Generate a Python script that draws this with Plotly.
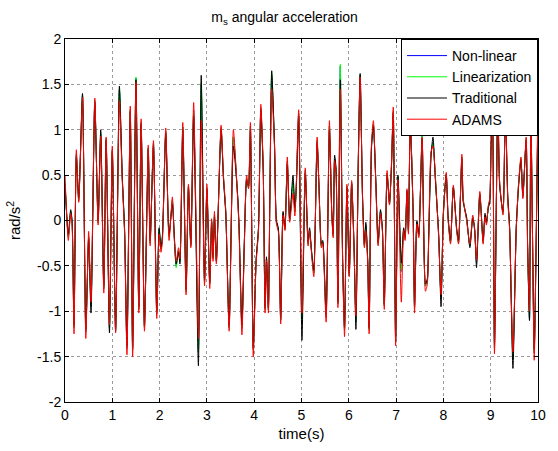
import plotly.graph_objects as go

# time (s)
t = [0.00, 0.07, 0.12, 0.15, 0.19, 0.24, 0.29, 0.37, 0.44, 0.50,
     0.55, 0.63, 0.70, 0.755, 0.82, 0.87, 0.94, 1.00, 1.07, 1.15,
     1.21, 1.26, 1.31, 1.38, 1.43, 1.50, 1.56, 1.61, 1.68, 1.76,
     1.80, 1.87, 1.94, 1.99, 2.03, 2.06, 2.13, 2.20, 2.27, 2.31,
     2.35, 2.40, 2.43, 2.49, 2.56, 2.61, 2.66, 2.72, 2.82, 2.88,
     2.95, 3.00, 3.06, 3.10, 3.13, 3.16, 3.20, 3.30, 3.35, 3.40,
     3.47, 3.56, 3.65, 3.68, 3.74, 3.79, 3.84, 3.88, 3.92, 3.98,
     4.04, 4.09, 4.14, 4.19, 4.23, 4.26, 4.30, 4.33, 4.37, 4.43,
     4.47, 4.51, 4.56, 4.61, 4.65, 4.70, 4.75, 4.82, 4.86, 4.89,
     4.94, 5.01, 5.08, 5.14, 5.17, 5.21, 5.26, 5.33, 5.37, 5.42,
     5.45, 5.52, 5.59, 5.64, 5.67, 5.70, 5.73, 5.77, 5.82, 5.87,
     5.91, 5.96, 6.01, 6.06, 6.11, 6.15, 6.20, 6.24, 6.29, 6.33,
     6.36, 6.40, 6.43, 6.48, 6.52, 6.57, 6.62, 6.67, 6.71, 6.75,
     6.81, 6.86, 6.90, 6.94, 6.99, 7.04, 7.11, 7.16, 7.19, 7.23,
     7.26, 7.30, 7.36, 7.39, 7.44, 7.48, 7.55, 7.62, 7.66, 7.69,
     7.74, 7.78, 7.83, 7.90, 7.95, 8.00, 8.06, 8.10, 8.15, 8.21,
     8.28, 8.32, 8.39, 8.42, 8.49, 8.56, 8.62, 8.66, 8.70, 8.77,
     8.84, 8.88, 8.91, 8.95, 8.98, 9.01, 9.04, 9.08, 9.15, 9.19,
     9.26, 9.31, 9.36, 9.40, 9.47, 9.54, 9.59, 9.64, 9.68, 9.75,
     9.78, 9.82, 9.85, 9.92, 9.96, 10.00]

adams = [0.50, -0.22, 0.08, -0.05, -1.25, 0.78, 0.20, 1.36, -1.30, -0.12,
         -0.90, 1.35, -0.05, 0.93, -0.80, 0.92, -1.15, 0.82, -1.24, 1.32,
         0.45, -0.15, -1.48, 1.26, -1.50, 1.52, -1.02, 1.12, -1.22, 0.83,
         -0.28, 0.88, -1.08, -0.15, -0.35, -0.22, 1.02, -0.22, 0.26, -0.20,
         -0.45, -0.30, -0.42, 1.08, -0.82, 0.40, -0.30, 1.30, -1.30, 1.10,
         -0.72, 0.40, -0.75, 0.02, -0.45, 0.10, -0.48, 1.05, 0.50, 0.10,
         -1.22, 1.00, 0.24, -0.11, -1.26, -0.30, 0.50, 0.35, 1.08, -1.50,
         -0.48, -0.12, 1.28, 0.60, -1.02, -0.44, -1.02, 0.17, 1.45, 0.80,
         -0.04, -0.12, -1.14, 0.06, -0.11, 0.70, -0.02, 0.30, 0.05, 0.40,
         1.22, -1.02, 0.58, -0.28, -0.11, -0.35, -0.62, 0.92, 0.35, -0.30,
         -0.25, -1.12, 1.10, 0.06, -0.19, 0.66, 0.53, -0.96, 1.45, -0.47,
         -1.28, 0.40, -0.62, 0.44, -0.30, -1.05, 0.60, 1.58, 0.24, -0.30,
         -0.11, -0.47, -1.25, 0.85, 1.10, 0.42, -0.28, 0.08, -0.11, -0.98,
         0.55, 0.17, 0.60, 1.25, -1.38, 0.45, -0.90, -0.11, -0.22, 0.35,
         -0.15, 1.15, 0.06, -1.02, -0.04, -0.19, 0.92, -0.78, -0.70, -0.19,
         0.76, 0.82, 0.49, -0.19, -0.82, 0.06, 0.53, 0.00, -0.26, 0.39,
         -0.11, -0.26, 0.73, 0.24, 0.00, -0.26, 0.06, -0.11, -0.44, 0.32,
         -0.26, 0.04, -0.05, 0.17, 0.24, 0.89, 1.20, -1.47, 1.30, 0.42,
         0.06, 1.25, 0.24, -0.11, -1.45, -0.11, 0.42, 0.70, 0.24, 0.92,
         -0.29, -1.00, 1.15, -1.54, -0.30, 1.39]

linearization = [0.42, -0.18, 0.10, -0.02, -1.18, 0.72, 0.22, 1.38, -1.22, -0.18,
                 -0.95, 1.32, -0.02, 0.97, -0.75, 0.90, -1.20, 0.78, -1.22, 1.45,
                 0.48, -0.12, -1.40, 1.22, -1.42, 1.58, -0.98, 1.08, -1.18, 0.80,
                 -0.25, 0.85, -1.02, -0.10, -0.32, -0.18, 0.98, -0.18, 0.22, -0.18,
                 -0.52, -0.33, -0.45, 1.03, -0.78, 0.38, -0.28, 1.20, -1.45, 1.52,
                 -0.68, 0.36, -0.70, 0.00, -0.42, 0.06, -0.45, 1.02, 0.48, 0.08,
                 -1.18, 0.92, 0.26, -0.08, -1.18, -0.28, 0.46, 0.36, 1.04, -1.42,
                 -0.45, -0.10, 1.24, 0.58, -0.98, -0.42, -0.98, 0.20, 1.62, 0.82,
                 -0.02, -0.10, -1.10, 0.08, -0.10, 0.65, 0.00, 0.42, 0.10, 0.38,
                 1.18, -1.15, 0.55, -0.26, -0.10, -0.33, -0.58, 0.88, 0.36, -0.28,
                 -0.24, -1.06, 1.04, 0.08, -0.17, 0.68, 0.55, -0.92, 1.72, -0.45,
                 -1.20, 0.38, -0.60, 0.42, -0.28, -1.12, 0.62, 1.60, 0.26, -0.28,
                 -0.05, -0.45, -1.20, 0.82, 1.06, 0.44, -0.26, 0.10, -0.10, -0.94,
                 0.52, 0.18, 0.58, 1.20, -1.32, 0.48, -0.55, -0.10, -0.20, 0.33,
                 -0.12, 1.10, 0.08, -0.96, -0.02, -0.17, 0.95, -0.72, -0.66, -0.17,
                 0.74, 0.86, 0.47, -0.17, -0.86, 0.08, 0.51, 0.02, -0.24, 0.37,
                 -0.10, -0.24, 0.70, 0.22, 0.02, -0.28, 0.04, -0.10, -0.45, 0.30,
                 -0.24, 0.06, -0.03, 0.15, 0.22, 0.86, 1.18, -1.40, 1.28, 0.40,
                 0.08, 1.22, 0.26, -0.09, -1.52, -0.09, 0.40, 0.68, 0.26, 0.90,
                 -0.27, -1.08, 1.12, -1.45, -0.28, 1.30]

traditional = [0.40, -0.15, 0.12, 0.00, -1.15, 0.70, 0.25, 1.40, -1.20, -0.20,
               -1.02, 1.30, 0.00, 1.00, -0.72, 0.88, -1.24, 0.76, -1.20, 1.48,
               0.50, -0.10, -1.38, 1.20, -1.40, 1.55, -0.95, 1.06, -1.16, 0.78,
               -0.22, 0.82, -1.00, -0.08, -0.30, -0.16, 0.96, -0.15, 0.18, -0.15,
               -0.48, -0.35, -0.48, 1.00, -0.76, 0.36, -0.26, 1.15, -1.60, 1.60,
               -0.66, 0.34, -0.68, -0.02, -0.40, 0.04, -0.44, 1.00, 0.46, 0.06,
               -1.16, 0.82, 0.28, -0.06, -1.15, -0.26, 0.44, 0.38, 1.00, -1.40,
               -0.44, -0.08, 1.22, 0.56, -0.96, -0.40, -0.96, 0.22, 1.65, 0.84,
               0.00, -0.08, -1.08, 0.10, -0.08, 0.62, 0.02, 0.50, 0.14, 0.36,
               1.15, -1.32, 0.52, -0.24, -0.08, -0.32, -0.55, 0.85, 0.38, -0.26,
               -0.22, -1.04, 1.00, 0.10, -0.15, 0.72, 0.58, -0.90, 1.55, -0.42,
               -1.18, 0.36, -0.58, 0.40, -0.26, -1.20, 0.64, 1.62, 0.28, -0.26,
               -0.02, -0.44, -1.18, 0.80, 1.04, 0.46, -0.24, 0.12, -0.08, -0.92,
               0.50, 0.20, 0.56, 1.18, -1.30, 0.50, -0.47, -0.08, -0.18, 0.32,
               -0.10, 1.08, 0.10, -0.94, 0.00, -0.15, 0.90, -0.70, -0.64, -0.15,
               0.72, 0.92, 0.45, -0.15, -0.95, 0.10, 0.50, 0.04, -0.22, 0.36,
               -0.08, -0.22, 0.68, 0.20, 0.04, -0.30, 0.02, -0.08, -0.52, 0.28,
               -0.22, 0.08, -0.02, 0.14, 0.20, 0.84, 1.16, -1.36, 1.26, 0.38,
               0.10, 1.20, 0.28, -0.07, -1.63, -0.07, 0.38, 0.66, 0.28, 0.88,
               -0.25, -1.10, 1.10, -1.42, -0.26, 1.25]

nonlinear = [0.42, -0.18, 0.10, -0.02, -1.18, 0.73, 0.22, 1.38, -1.23, -0.18,
             -0.95, 1.32, -0.02, 0.96, -0.75, 0.90, -1.19, 0.78, -1.22, 1.44,
             0.48, -0.12, -1.41, 1.22, -1.43, 1.57, -0.98, 1.08, -1.18, 0.80,
             -0.25, 0.85, -1.03, -0.10, -0.32, -0.18, 0.98, -0.18, 0.22, -0.18,
             -0.50, -0.33, -0.45, 1.03, -0.78, 0.38, -0.28, 1.21, -1.45, 1.50,
             -0.68, 0.36, -0.70, 0.00, -0.42, 0.06, -0.45, 1.02, 0.48, 0.08,
             -1.18, 0.92, 0.26, -0.08, -1.19, -0.28, 0.46, 0.36, 1.04, -1.42,
             -0.45, -0.10, 1.24, 0.58, -0.98, -0.42, -0.98, 0.20, 1.60, 0.82,
             -0.02, -0.10, -1.10, 0.08, -0.10, 0.65, 0.00, 0.42, 0.10, 0.38,
             1.18, -1.14, 0.55, -0.26, -0.10, -0.33, -0.58, 0.88, 0.36, -0.28,
             -0.24, -1.07, 1.04, 0.08, -0.17, 0.68, 0.55, -0.92, 1.70, -0.45,
             -1.20, 0.38, -0.60, 0.42, -0.28, -1.12, 0.62, 1.60, 0.26, -0.28,
             -0.05, -0.45, -1.20, 0.82, 1.06, 0.44, -0.26, 0.10, -0.10, -0.94,
             0.52, 0.18, 0.58, 1.20, -1.33, 0.48, -0.56, -0.10, -0.20, 0.33,
             -0.12, 1.10, 0.08, -0.96, -0.02, -0.17, 0.94, -0.72, -0.66, -0.17,
             0.74, 0.86, 0.47, -0.17, -0.86, 0.08, 0.51, 0.02, -0.24, 0.37,
             -0.10, -0.24, 0.70, 0.22, 0.02, -0.28, 0.04, -0.10, -0.46, 0.30,
             -0.24, 0.06, -0.03, 0.15, 0.22, 0.86, 1.18, -1.41, 1.28, 0.40,
             0.08, 1.22, 0.26, -0.09, -1.52, -0.09, 0.40, 0.68, 0.26, 0.90,
             -0.27, -1.10, 1.12, -1.46, -0.28, 1.30]

series_names = ["Non-linear", "Linearization", "Traditional", "ADAMS"]
series_colors = ["#0000ff", "#00ff00", "#000000", "#ff0000"]
x_ticks = [0, 1, 2, 3, 4, 5, 6, 7, 8, 9, 10]
y_ticks = [-2, -1.5, -1, -0.5, 0, 0.5, 1, 1.5, 2]
y_tick_text = ["-2", "-1.5", "-1", "-0.5", "0", "0.5", "1", "1.5", "2"]

FONT = "Liberation Sans, Arial, Helvetica, sans-serif"

fig = go.Figure()
for name, color, vals in zip(series_names, series_colors,
                             [nonlinear, linearization, traditional, adams]):
    fig.add_trace(go.Scatter(x=t, y=vals, mode="lines", name=name,
                             line=dict(color=color, width=1, shape="spline", smoothing=0.6)))

axis_common = dict(showline=True, linecolor="black", linewidth=1, mirror="all",
                   ticks="inside", ticklen=4, tickcolor="black",
                   showgrid=True, gridcolor="#9a9a9a", griddash="dot", gridwidth=1,
                   zeroline=False, tickfont=dict(size=14, color="black", family=FONT))

fig.update_xaxes(range=[0, 10], tickvals=x_ticks,
                 title=dict(text="time(s)", font=dict(size=15, color="black", family=FONT), standoff=6),
                 **axis_common)
fig.update_yaxes(range=[-2, 2], tickvals=y_ticks, ticktext=y_tick_text,
                 title=dict(text="rad/s<sup>2</sup>", font=dict(size=15, color="black", family=FONT), standoff=12),
                 **axis_common)

fig.update_layout(
    width=558, height=451,
    margin=dict(l=65, r=16, t=39, b=40),
    paper_bgcolor="white", plot_bgcolor="white",
    font=dict(family=FONT, size=13, color="black"),
    title=dict(text="m<sub>s</sub> angular acceleration", x=0.51, xanchor="center",
               y=0.962, yanchor="middle", font=dict(size=14, color="black", family=FONT)),
    legend=dict(x=1, xanchor="right", y=1, yanchor="top", bgcolor="white",
                bordercolor="black", borderwidth=1, font=dict(size=14, family=FONT, color="black"),
                tracegroupgap=0, itemwidth=40),
    showlegend=True,
)

fig.write_html("out.html")
